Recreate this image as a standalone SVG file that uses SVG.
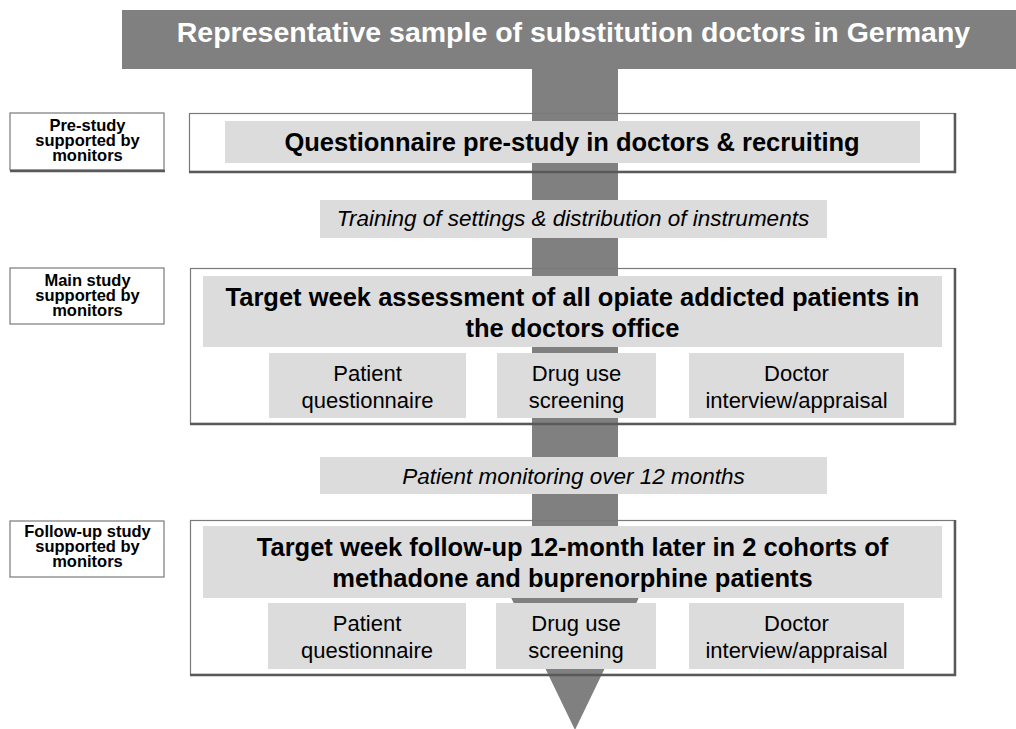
<svg xmlns="http://www.w3.org/2000/svg" width="1016" height="729" viewBox="0 0 1016 729">
<style>
.bg{fill:#ffffff}
.dark{fill:#808080}
.light{fill:#dcdcdc}
.frame{fill:none;stroke:#7a7a7a;stroke-width:1.2}
.shadow{stroke:#595959;stroke-width:2.5;fill:none}
.lab{fill:#ffffff;stroke:#7a7a7a;stroke-width:1.2}
.t{font-family:"Liberation Sans",Arial,sans-serif;text-anchor:middle;fill:#000}
.banner{font-size:28.5px;font-weight:bold;fill:#ffffff}
.head{font-size:25.5px;font-weight:bold}
.it{font-size:22.5px;font-style:italic}
.sub{font-size:22px}
.side{font-size:16.5px;font-weight:bold}
</style>
<rect class="bg" x="0" y="0" width="1016" height="729"/>

<g id="connectors">
  <path class="dark" d="M532,69 L618,69 L618,585 L645,585 L575,730 L505,585 L532,585 Z"/>
</g>

<g id="banner">
  <rect class="dark" x="122" y="10" width="894" height="59"/>
  <text class="t banner" x="573.5" y="42">Representative sample of substitution doctors in Germany</text>
</g>

<g id="label-prestudy">
  <rect class="lab" x="10" y="113" width="154" height="57"/>
  <line class="shadow" x1="10" y1="171" x2="165" y2="171"/>
  <text class="t side" x="87.5" y="131">Pre-study</text>
  <text class="t side" x="87.5" y="146">supported by</text>
  <text class="t side" x="87.5" y="161">monitors</text>
</g>

<g id="label-main">
  <rect class="lab" x="10" y="268" width="154" height="56"/>
  <text class="t side" x="87.5" y="286">Main study</text>
  <text class="t side" x="87.5" y="301">supported by</text>
  <text class="t side" x="87.5" y="316">monitors</text>
</g>

<g id="label-followup">
  <rect class="lab" x="10" y="521" width="154" height="56"/>
  <text class="t side" x="87.5" y="537">Follow-up study</text>
  <text class="t side" x="87.5" y="552">supported by</text>
  <text class="t side" x="87.5" y="567">monitors</text>
</g>

<g id="prestudy">
  <rect class="light" x="225" y="121" width="695" height="42"/>
  <rect class="frame" x="189.5" y="113.5" width="765" height="58"/>
  <path class="shadow" d="M955,113 L955,172 L189,172"/>
  <text class="t head" x="572" y="151">Questionnaire pre-study in doctors &amp; recruiting</text>
</g>

<g id="training">
  <rect class="light" x="320" y="200" width="507" height="38"/>
  <text class="t it" x="573" y="226">Training of settings &amp; distribution of instruments</text>
</g>

<g id="mainstudy">
  <rect class="light" x="203" y="276" width="739" height="71"/>
  <text class="t head" x="572.5" y="306">Target week assessment of all opiate addicted patients in</text>
  <text class="t head" x="572.5" y="337">the doctors office</text>
  <rect class="frame" x="190.5" y="268.5" width="764" height="155"/>
  <path class="shadow" d="M955,268 L955,424 L190,424"/>
</g>
<g id="main-patient">
  <rect class="light" x="269" y="353" width="197" height="65"/>
  <text class="t sub" x="367.5" y="381">Patient</text>
  <text class="t sub" x="367.5" y="408">questionnaire</text>
</g>
<g id="main-drug">
  <rect class="light" x="497" y="353" width="159" height="65"/>
  <text class="t sub" x="576.5" y="381">Drug use</text>
  <text class="t sub" x="576.5" y="408">screening</text>
</g>
<g id="main-doctor">
  <rect class="light" x="689" y="353" width="215" height="65"/>
  <text class="t sub" x="796.5" y="381">Doctor</text>
  <text class="t sub" x="796.5" y="408">interview/appraisal</text>
</g>

<g id="monitoring">
  <rect class="light" x="320" y="457" width="507" height="37"/>
  <text class="t it" x="573.5" y="484">Patient monitoring over 12 months</text>
</g>

<g id="followup">
  <rect class="light" x="203" y="526" width="739" height="72"/>
  <text class="t head" x="572.5" y="556">Target week follow-up 12-month later in 2 cohorts of</text>
  <text class="t head" x="572.5" y="587">methadone and buprenorphine patients</text>
  <rect class="frame" x="190.5" y="520.5" width="764" height="154"/>
  <path class="shadow" d="M955,520 L955,675 L190,675"/>
</g>
<g id="fu-patient">
  <rect class="light" x="268" y="603" width="198" height="66"/>
  <text class="t sub" x="367" y="631">Patient</text>
  <text class="t sub" x="367" y="658">questionnaire</text>
</g>
<g id="fu-drug">
  <rect class="light" x="496" y="603" width="160" height="66"/>
  <text class="t sub" x="576" y="631">Drug use</text>
  <text class="t sub" x="576" y="658">screening</text>
</g>
<g id="fu-doctor">
  <rect class="light" x="689" y="603" width="215" height="66"/>
  <text class="t sub" x="796.5" y="631">Doctor</text>
  <text class="t sub" x="796.5" y="658">interview/appraisal</text>
</g>
</svg>
